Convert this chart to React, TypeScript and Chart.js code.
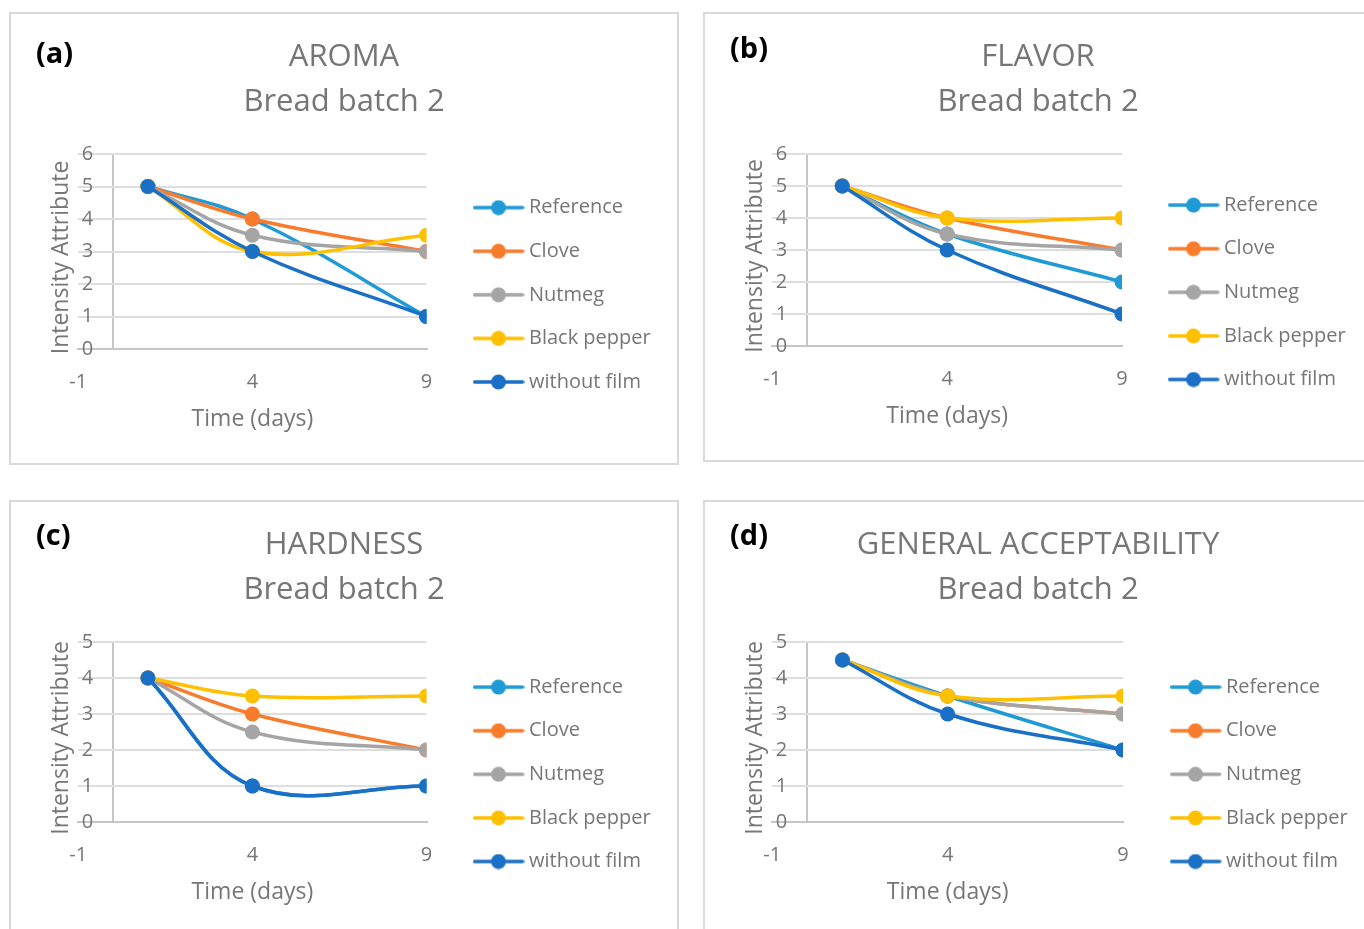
import React, { useEffect, useRef } from 'react';
import { Chart, registerables } from 'chart.js';

Chart.register(...registerables);

// ---------- data ----------
const SERIES_NAMES = ['Reference', 'Clove', 'Nutmeg', 'Black pepper', 'without film'];
const DAYS = [1, 4, 9];
const X_TICKS = [-1, 4, 9];
const Y_AXIS_CROSS = 0;

// values per series, in SERIES_NAMES order, at DAYS
const AROMA_VALUES = [[5, 4, 1], [5, 4, 3], [5, 3.5, 3], [5, 3, 3.5], [5, 3, 1]];
const FLAVOR_VALUES = [[5, 3.5, 2], [5, 4, 3], [5, 3.5, 3], [5, 4, 4], [5, 3, 1]];
const HARDNESS_VALUES = [[4, 1, 1], [4, 3, 2], [4, 2.5, 2], [4, 3.5, 3.5], [4, 1, 1]];
const ACCEPTABILITY_VALUES = [[4.5, 3.5, 2], [4.5, 3.5, 3], [4.5, 3.5, 3], [4.5, 3.5, 3.5], [4.5, 3, 2]];

const AROMA_TITLE = ['AROMA', 'Bread batch 2'];
const FLAVOR_TITLE = ['FLAVOR', 'Bread batch 2'];
const HARDNESS_TITLE = ['HARDNESS', 'Bread batch 2'];
const ACCEPTABILITY_TITLE = ['GENERAL ACCEPTABILITY', 'Bread batch 2'];

// ---------- styles / layout ----------
const COLORS = ['#1f9ad6', '#f97b2c', '#a5a5a5', '#ffc000', '#1a70c6'];
const TEXT = '#767676';
const GRID = '#dedede';
const AXIS = '#c6c6c6';
const FONT = "'Open Sans', sans-serif";
const LEGEND_FONT = 20;
const LEGEND_PAD = 23.6;
const LEGEND_BOX = 41;
const CHART_LEFT = 67.3;
const YTITLE_X = 50;

const PANELS = [
  { id: 'a', label: '(a)', title: AROMA_TITLE, values: AROMA_VALUES, yMax: 6, left: 9, top: 12, height: 453, legendTop: 160, legendLeft: 443.4, chartRight: 415.5, labelTop: 18 },
  { id: 'b', label: '(b)', title: FLAVOR_TITLE, values: FLAVOR_VALUES, yMax: 6, left: 703, top: 12, height: 450, legendTop: 157.5, legendLeft: 444.4, chartRight: 417, labelTop: 13 },
  { id: 'c', label: '(c)', title: HARDNESS_TITLE, values: HARDNESS_VALUES, yMax: 5, left: 9, top: 500, height: 438, legendTop: 151.5, legendLeft: 443.4, chartRight: 415.5, labelTop: 12 },
  { id: 'd', label: '(d)', title: ACCEPTABILITY_TITLE, values: ACCEPTABILITY_VALUES, yMax: 5, left: 703, top: 500, height: 438, legendTop: 151.5, legendLeft: 446.4, chartRight: 418, labelTop: 12 },
];

function makeMarker(color: string) {
  const c = document.createElement('canvas');
  c.width = 52;
  c.height = 16;
  const g = c.getContext('2d')!;
  g.strokeStyle = color;
  g.lineWidth = 3.5;
  g.lineCap = 'round';
  g.beginPath();
  g.moveTo(2, 8);
  g.lineTo(50, 8);
  g.stroke();
  g.fillStyle = color;
  g.beginPath();
  g.arc(26, 8, 7.5, 0, Math.PI * 2);
  g.fill();
  return c;
}

function Panel({ cfg }: { cfg: any }) {
  const ref = useRef<HTMLCanvasElement>(null);
  const W = 666;
  const H = cfg.height - 4;

  useEffect(() => {
    if (!ref.current) return;
    Chart.defaults.font.family = FONT;
    const markers = COLORS.map(makeMarker);

    // natural legend width (same formula Chart.js uses for a vertical legend)
    const mctx = document.createElement('canvas').getContext('2d')!;
    mctx.font = `${LEGEND_FONT}px ${FONT}`;
    const textW = Math.max(...SERIES_NAMES.map((n) => mctx.measureText(n).width));
    const legendW = LEGEND_PAD + LEGEND_BOX + LEGEND_FONT / 2 + textW + 10;
    const P = W - cfg.legendLeft - legendW;
    const yWidth = CHART_LEFT - P;
    const spacerW = cfg.legendLeft - cfg.chartRight;
    const yTitlePad = YTITLE_X - P - 13.8;

    const chart = new Chart(ref.current, {
      type: 'line',
      data: {
        datasets: SERIES_NAMES.map((name, i) => ({
          label: name,
          data: DAYS.map((d, j) => ({ x: d, y: cfg.values[i][j] })),
          borderColor: COLORS[i],
          backgroundColor: COLORS[i],
          pointBackgroundColor: COLORS[i],
          pointBorderColor: COLORS[i],
          pointBorderWidth: 0,
          pointRadius: 7.5,
          pointHoverRadius: 7.5,
          borderWidth: 3.5,
          tension: 0.38,
          fill: false,
          order: SERIES_NAMES.length - i,
        })),
      },
      options: {
        responsive: false,
        animation: false,
        devicePixelRatio: 1,
        events: [],
        layout: { padding: { left: P, right: P, top: 0, bottom: 0 } },
        scales: {
          x: {
            type: 'linear',
            min: X_TICKS[0],
            max: X_TICKS[X_TICKS.length - 1],
            afterBuildTicks: (s: any) => {
              s.ticks = [X_TICKS[0], Y_AXIS_CROSS, ...X_TICKS.slice(1)].map((v) => ({ value: v }));
            },
            afterFit: (s: any) => {
              s.height = 114;
            },
            ticks: {
              autoSkip: false,
              maxRotation: 0,
              padding: 21.3,
              color: TEXT,
              font: { size: 20 },
              callback: (v: any) => (v === Y_AXIS_CROSS ? '' : String(v)),
            },
            grid: {
              drawTicks: false,
              lineWidth: 2,
              color: (c: any) => (c.tick && c.tick.value === Y_AXIS_CROSS ? AXIS : 'rgba(0,0,0,0)'),
            },
            border: { display: true, color: AXIS, width: 2 },
            title: {
              display: true,
              text: 'Time (days)',
              color: TEXT,
              font: { size: 23 },
              padding: { top: 0, bottom: 30 },
            },
          },
          y: {
            type: 'linear',
            min: 0,
            max: cfg.yMax,
            afterFit: (s: any) => {
              s.width = yWidth;
            },
            ticks: {
              stepSize: 1,
              mirror: true,
              crossAlign: 'near',
              padding: 3.5,
              color: TEXT,
              font: { size: 20 },
            },
            grid: { drawTicks: false, color: GRID, lineWidth: 2 },
            border: { display: false },
            title: {
              display: true,
              text: 'Intensity Attribute  ',
              color: TEXT,
              font: { size: 23 },
              padding: { top: yTitlePad, bottom: 0 },
            },
          },
          spacer: {
            type: 'linear',
            position: 'right',
            display: true,
            afterFit: (s: any) => {
              s.width = spacerW;
            },
            ticks: { display: false },
            grid: { display: false, drawTicks: false },
            border: { display: false },
          },
        },
        plugins: {
          title: {
            display: true,
            text: cfg.title,
            color: TEXT,
            font: { size: 31, weight: 'normal', lineHeight: 45 / 31 },
            padding: { top: 20.2, bottom: 29.8 },
          },
          legend: {
            position: 'right',
            align: 'start',
            maxWidth: legendW + 40,
            title: {
              display: true,
              text: ' ',
              font: { size: 10, lineHeight: 1 },
              padding: { top: cfg.legendTop - 10, bottom: 0 },
            },
            labels: {
              usePointStyle: true,
              pointStyleWidth: LEGEND_BOX,
              padding: LEGEND_PAD,
              color: TEXT,
              font: { size: LEGEND_FONT },
              generateLabels: (ch: any) =>
                ch.data.datasets.map((ds: any, i: number) => ({
                  text: ds.label,
                  fillStyle: COLORS[i],
                  strokeStyle: COLORS[i],
                  fontColor: TEXT,
                  lineWidth: 0,
                  pointStyle: markers[i],
                  hidden: false,
                  datasetIndex: i,
                })),
            },
          },
          tooltip: { enabled: false },
        },
      } as any,
    });
    return () => chart.destroy();
  }, [cfg]);

  return (
    <div
      style={{
        position: 'absolute',
        left: cfg.left,
        top: cfg.top,
        width: 670,
        height: cfg.height,
        border: '2px solid #d9d9d9',
        boxSizing: 'border-box',
        background: '#fff',
      }}
    >
      <canvas ref={ref} width={W} height={H} style={{ display: 'block', width: W, height: H }} />
      <div
        style={{
          position: 'absolute',
          left: 25,
          top: cfg.labelTop,
          fontFamily: FONT,
          fontWeight: 700,
          fontSize: 29,
          lineHeight: '40px',
          color: '#000',
        }}
      >
        {cfg.label}
      </div>
    </div>
  );
}

export default function App() {
  return (
    <div
      style={{
        position: 'absolute',
        left: 0,
        top: 0,
        width: 1364,
        height: 929,
        overflow: 'hidden',
        background: '#fff',
      }}
    >
      {PANELS.map((p) => (
        <Panel key={p.id} cfg={p} />
      ))}
    </div>
  );
}
